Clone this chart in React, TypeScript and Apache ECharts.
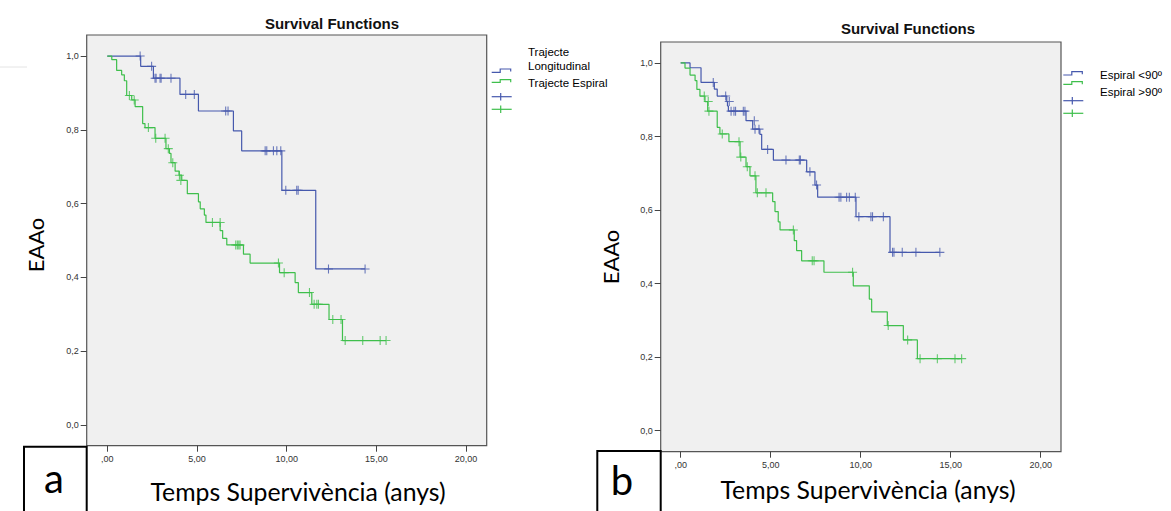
import React, { useEffect, useRef } from "react";
import * as echarts from "echarts";

const X_TICKS = [0, 5, 10, 15, 20];
const X_TICK_LABELS = [",00", "5,00", "10,00", "15,00", "20,00"];
const Y_TICKS = [0, 0.2, 0.4, 0.6, 0.8, 1.0];
const Y_TICK_LABELS = ["0,0", "0,2", "0,4", "0,6", "0,8", "1,0"];

// Panel a — Trajecte Longitudinal
const A_LONG_T = [0, 1.86, 2.57, 4.05, 5.08, 7.03, 7.49, 9.73, 11.62, 14.37];
const A_LONG_S = [1.0, 0.972, 0.94, 0.896, 0.851, 0.797, 0.743, 0.636, 0.423, 0.423];
const A_LONG_CT = [1.83, 2.47, 2.66, 2.72, 2.94, 3.0, 3.55, 4.37, 4.85, 6.6, 6.73, 8.8, 8.89, 9.26, 9.45, 9.67, 9.95, 10.56, 10.64, 12.33, 14.37];
const A_LONG_CS = [1.0, 0.972, 0.94, 0.94, 0.94, 0.94, 0.94, 0.896, 0.896, 0.851, 0.851, 0.743, 0.743, 0.743, 0.743, 0.743, 0.636, 0.636, 0.636, 0.423, 0.423];

// Panel a — Trajecte Espiral
const A_SPIR_T = [0, 0.25, 0.52, 0.8, 0.95, 1.08, 1.36, 1.55, 1.97, 2.1, 2.66, 3.27, 3.46, 3.55, 3.78, 4.0, 4.15, 4.46, 5.08, 5.18, 5.41, 5.5, 6.29, 6.43, 6.66, 7.59, 7.96, 9.6, 10.47, 10.65, 11.4, 12.36, 13.11, 15.54];
const A_SPIR_S = [1, 0.99, 0.961, 0.949, 0.933, 0.893, 0.881, 0.863, 0.817, 0.806, 0.777, 0.749, 0.736, 0.711, 0.688, 0.677, 0.663, 0.627, 0.605, 0.586, 0.569, 0.549, 0.527, 0.506, 0.488, 0.463, 0.439, 0.413, 0.386, 0.359, 0.327, 0.286, 0.229, 0.229];
const A_SPIR_CT = [1.23, 1.5, 2.29, 2.7, 3.22, 3.4, 3.65, 4.02, 4.1, 5.86, 6.29, 7.16, 7.25, 7.33, 7.4, 9.54, 9.86, 11.27, 11.53, 11.68, 11.77, 12.57, 13.03, 13.26, 14.24, 15.21, 15.54];
const A_SPIR_CS = [0.893, 0.881, 0.806, 0.777, 0.777, 0.749, 0.711, 0.677, 0.663, 0.549, 0.549, 0.488, 0.488, 0.488, 0.488, 0.439, 0.413, 0.359, 0.327, 0.327, 0.327, 0.286, 0.286, 0.229, 0.229, 0.229, 0.229];

// Panel b — Espiral <90º
const B_LT90_T = [0, 0.52, 1.13, 1.87, 2.03, 2.56, 2.6, 2.65, 3.63, 4.0, 4.4, 4.5, 5.15, 7.0, 7.46, 7.61, 9.74, 11.63, 14.4];
const B_LT90_S = [1, 0.987, 0.947, 0.929, 0.91, 0.895, 0.883, 0.869, 0.843, 0.82, 0.806, 0.765, 0.736, 0.704, 0.668, 0.635, 0.582, 0.485, 0.485];
const B_LT90_CT = [1.81, 2.5, 2.7, 2.8, 2.96, 3.05, 3.48, 3.57, 4.09, 4.13, 4.35, 4.83, 5.85, 6.59, 6.65, 7.18, 7.55, 8.8, 8.9, 9.22, 9.37, 9.7, 9.9, 10.57, 10.66, 11.26, 11.77, 11.85, 12.31, 13.07, 14.4];
const B_LT90_CS = [0.947, 0.91, 0.895, 0.869, 0.869, 0.869, 0.869, 0.869, 0.843, 0.82, 0.82, 0.765, 0.736, 0.736, 0.736, 0.704, 0.668, 0.635, 0.635, 0.635, 0.635, 0.635, 0.582, 0.582, 0.582, 0.582, 0.485, 0.485, 0.485, 0.485, 0.485];

// Panel b — Espiral >90º
const B_GT90_T = [0, 0.24, 0.52, 0.8, 0.9, 1.07, 1.35, 1.5, 2.03, 2.18, 2.68, 3.3, 3.63, 3.85, 4.18, 5.11, 5.24, 5.42, 5.52, 6.31, 6.44, 6.72, 7.96, 9.59, 10.48, 10.61, 11.48, 12.37, 13.15, 15.61];
const B_GT90_S = [1, 0.986, 0.967, 0.952, 0.928, 0.91, 0.895, 0.869, 0.825, 0.807, 0.786, 0.744, 0.718, 0.693, 0.647, 0.623, 0.596, 0.568, 0.546, 0.517, 0.49, 0.462, 0.431, 0.394, 0.358, 0.323, 0.286, 0.247, 0.196, 0.196];
const B_GT90_CT = [1.31, 1.53, 1.57, 2.31, 3.24, 3.34, 3.7, 4.13, 4.26, 4.74, 6.26, 7.31, 7.41, 9.55, 11.53, 12.61, 13.3, 14.26, 15.24, 15.61];
const B_GT90_CS = [0.91, 0.895, 0.869, 0.807, 0.786, 0.744, 0.718, 0.693, 0.647, 0.647, 0.546, 0.462, 0.462, 0.431, 0.286, 0.247, 0.196, 0.196, 0.196, 0.196];

const BLUE = "#4659ad";
const GREEN = "#3fbf4c";
const PLUS = "path://M4.4,0H5.6V4.4H10V5.6H5.6V10H4.4V5.6H0V4.4H4.4Z";
const SMALL_FONT = "'Liberation Sans', Arial, sans-serif";
const BIG_FONT = "Lato, 'Open Sans', sans-serif";

const zip = (a: number[], b: number[]) => a.map((v, i) => [v, b[i]]);
const lookup = (ticks: number[], labels: string[]) => (v: number) => {
  const i = ticks.findIndex((t) => Math.abs(t - v) < 1e-6);
  return i >= 0 ? labels[i] : "";
};

function axes(gridIndex: number, xMin: number, xMax: number, yMin: number, yMax: number) {
  const x = {
    type: "value",
    gridIndex,
    position: "bottom",
    min: xMin,
    max: xMax,
    axisLine: { show: false, onZero: false },
    splitLine: { show: false },
    axisTick: { show: true, inside: false, customValues: X_TICKS, length: 6, lineStyle: { color: "#444", width: 1 } },
    axisLabel: {
      show: true,
      customValues: X_TICKS,
      formatter: lookup(X_TICKS, X_TICK_LABELS),
      fontSize: 9,
      fontFamily: SMALL_FONT,
      color: "#333",
      margin: 9,
    },
  };
  const y = {
    type: "value",
    gridIndex,
    position: "left",
    min: yMin,
    max: yMax,
    axisLine: { show: false, onZero: false },
    splitLine: { show: false },
    axisTick: { show: true, inside: false, customValues: Y_TICKS, length: 6, lineStyle: { color: "#444", width: 1 } },
    axisLabel: {
      show: true,
      customValues: Y_TICKS,
      formatter: lookup(Y_TICKS, Y_TICK_LABELS),
      fontSize: 9,
      fontFamily: SMALL_FONT,
      color: "#333",
      margin: 8,
    },
  };
  return { x, y };
}

function stepSeries(name: string, idx: number, t: number[], s: number[], color: string) {
  return {
    name,
    type: "line",
    xAxisIndex: idx,
    yAxisIndex: idx,
    step: "end",
    showSymbol: false,
    data: zip(t, s),
    lineStyle: { color, width: 1.2 },
    itemStyle: { color },
    z: 3,
  };
}

function censorSeries(idx: number, t: number[], s: number[], color: string) {
  return {
    type: "scatter",
    xAxisIndex: idx,
    yAxisIndex: idx,
    symbol: PLUS,
    symbolSize: 9,
    data: zip(t, s),
    itemStyle: { color },
    z: 4,
  };
}

function legendGraphics(x0: number, blueY: number, greenY: number, plusB: number, plusG: number) {
  const step = (y: number, color: string, h: number) => ({
    type: "polyline",
    shape: { points: [[x0, y], [x0 + 8.5, y], [x0 + 8.5, y - h], [x0 + 19, y - h], [x0 + 19, y - h + 2.5]] },
    style: { stroke: color, fill: "none", lineWidth: 1.2 },
  });
  const plus = (y: number, color: string) => [
    { type: "line", shape: { x1: x0, y1: y, x2: x0 + 20, y2: y }, style: { stroke: color, lineWidth: 1.2 } },
    { type: "line", shape: { x1: x0 + 9, y1: y - 3.7, x2: x0 + 9, y2: y + 3.7 }, style: { stroke: color, lineWidth: 1.2 } },
  ];
  return [step(blueY, BLUE, 3.3), step(greenY, GREEN, 2.6), ...plus(plusB, BLUE), ...plus(plusG, GREEN)];
}

const text = (x: number, y: number, t: string, size: number, opts: any = {}) => ({
  type: "text",
  x,
  y,
  rotation: opts.rotation || 0,
  style: {
    text: t,
    fontSize: size,
    fontFamily: opts.family || SMALL_FONT,
    fontWeight: opts.weight || "normal",
    fill: opts.fill || "#000",
    align: opts.align || "left",
    verticalAlign: opts.valign || "middle",
  },
  z: 10,
});

export default function App() {
  const ref = useRef<HTMLDivElement>(null);
  useEffect(() => {
    if (!ref.current) return;
    const chart = echarts.init(ref.current, null, { renderer: "svg" });
    const a = axes(0, -1.149, 21.15, -0.056, 1.057);
    const b = axes(1, -1.11, 21.13, -0.057, 1.057);
    chart.setOption({
      animation: false,
      backgroundColor: "#ffffff",
      grid: [
        { left: 86.7, top: 35, width: 400, height: 410.7, show: true, backgroundColor: "#f0f0f0", borderColor: "#555", borderWidth: 1.2 },
        { left: 660.7, top: 42, width: 400.3, height: 409.7, show: true, backgroundColor: "#f0f0f0", borderColor: "#555", borderWidth: 1.2 },
      ],
      xAxis: [a.x, b.x],
      yAxis: [a.y, b.y],
      series: [
        stepSeries("Trajecte Longitudinal", 0, A_LONG_T, A_LONG_S, BLUE),
        stepSeries("Trajecte Espiral", 0, A_SPIR_T, A_SPIR_S, GREEN),
        censorSeries(0, A_LONG_CT, A_LONG_CS, BLUE),
        censorSeries(0, A_SPIR_CT, A_SPIR_CS, GREEN),
        stepSeries("Espiral <90º", 1, B_LT90_T, B_LT90_S, BLUE),
        stepSeries("Espiral >90º", 1, B_GT90_T, B_GT90_S, GREEN),
        censorSeries(1, B_LT90_CT, B_LT90_CS, BLUE),
        censorSeries(1, B_GT90_CT, B_GT90_CS, GREEN),
      ],
      graphic: [
        { type: "line", shape: { x1: 0, y1: 67, x2: 27, y2: 67 }, style: { stroke: "#e4e4e4", lineWidth: 1 } },
        text(332, 23, "Survival Functions", 15, { weight: "bold", align: "center", fill: "#111" }),
        text(908, 28, "Survival Functions", 15, { weight: "bold", align: "center", fill: "#111" }),
        ...legendGraphics(491.7, 72.3, 82.3, 96.7, 109.3),
        text(528, 51.7, "Trajecte", 11.5),
        text(528, 66, "Longitudinal", 11.5),
        text(528, 83.3, "Trajecte Espiral", 11.5),
        ...legendGraphics(1063.3, 75, 84.3, 100.7, 113.3),
        text(1100, 75, "Espiral <90º", 11.5),
        text(1100, 91.7, "Espiral >90º", 11.5),
        text(35, 245, "EAAo", 22, { family: BIG_FONT, rotation: Math.PI / 2, align: "center" }),
        text(610, 257, "EAAo", 22, { family: BIG_FONT, rotation: Math.PI / 2, align: "center" }),
        text(298, 491, "Temps Supervivència (anys)", 24.8, { family: BIG_FONT, align: "center" }),
        text(868, 489, "Temps Supervivència (anys)", 24.8, { family: BIG_FONT, align: "center" }),
        { type: "rect", shape: { x: 24, y: 446.7, width: 62.7, height: 80 }, style: { fill: "#fff", stroke: "#000", lineWidth: 2 }, z: 9 },
        { type: "rect", shape: { x: 597.3, y: 451, width: 63.4, height: 80 }, style: { fill: "#fff", stroke: "#000", lineWidth: 2 }, z: 9 },
        text(54, 478, "a", 40, { family: BIG_FONT, align: "center" }),
        text(622, 480, "b", 40, { family: BIG_FONT, align: "center" }),
      ],
    });
    return () => chart.dispose();
  }, []);
  return <div ref={ref} style={{ position: "fixed", left: 0, top: 0, width: 1171, height: 511 }} />;
}
